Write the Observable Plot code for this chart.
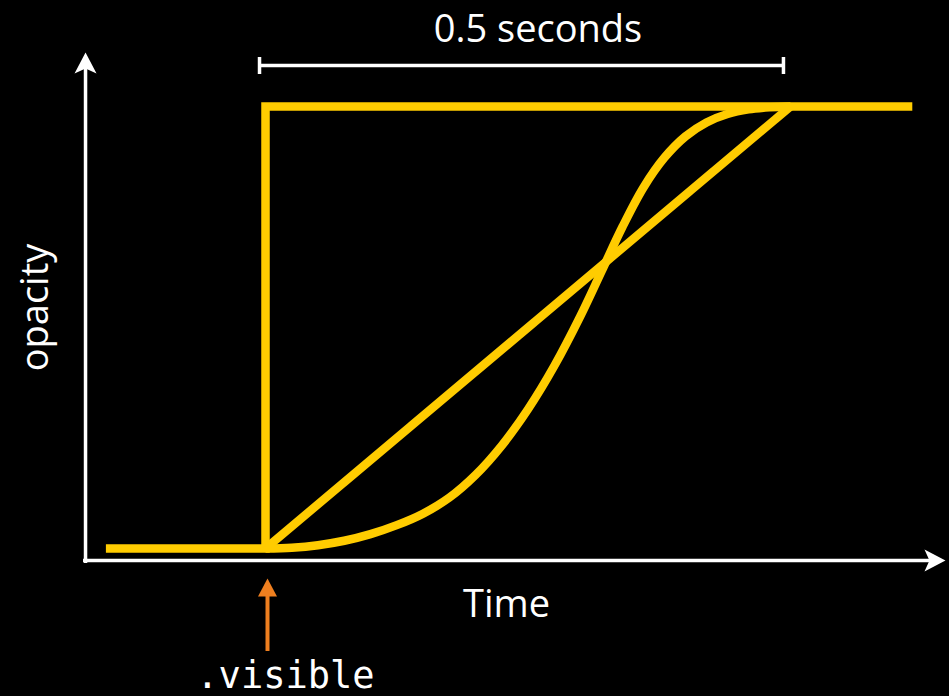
<!DOCTYPE html>
<html>
<head>
<meta charset="utf-8">
<script src="https://cdn.jsdelivr.net/npm/d3@7"></script>
<script src="https://cdn.jsdelivr.net/npm/@observablehq/plot@0.6"></script>
<style>
  html, body { margin: 0; padding: 0; background: #000; }
  #chart svg { display: block; }
</style>
</head>
<body>
<div id="chart"></div>
<script>
// ---- data (time in seconds, opacity 0..1) ----
const stepTime    = [-0.152, 0, 0, 0.616];
const stepOpacity = [0, 0, 1, 1];

const linearTime    = [0, 0.5];
const linearOpacity = [0, 1];

const easeTime    = [0, 0.025, 0.05, 0.075, 0.1, 0.125, 0.15, 0.175, 0.2, 0.225, 0.25, 0.275,
                     0.3, 0.32, 0.34, 0.36, 0.38, 0.4, 0.42, 0.44, 0.46, 0.48, 0.5];
const easeOpacity = [0, 0.0019, 0.0075, 0.0175, 0.0325, 0.0528, 0.0788, 0.115, 0.1663, 0.2329, 0.3151, 0.4129,
                     0.5264, 0.6269, 0.7279, 0.8169, 0.8844, 0.9324, 0.9639, 0.9829, 0.9934, 0.9981, 1];

const durationStart = 0;     // seconds
const durationEnd   = 0.5;   // seconds
const durationLabel = "0.5 seconds";
const xLabel = "Time";
const yLabel = "opacity";
const triggerLabel = ".visible";

// ---- build tables ----
const toRows = (ts, vs) => ts.map((t, i) => ({t, v: vs[i]}));
const stepRows = toRows(stepTime, stepOpacity);
const linearRows = toRows(linearTime, linearOpacity);
const easeRows = toRows(easeTime, easeOpacity);

const YELLOW = "#ffcc00";
const WHITE = "#ffffff";
const ORANGE = "#ef7f1f";

// axis frame positions in data units
const axisX0 = -0.1733, axisX1 = 0.6476;   // time
const axisY0 = -0.0339, axisY1 = 1.1222;   // opacity
const xAxisAt = -0.0271, yAxisAt = -0.1714;

// filled arrowhead, tip at origin, pointing up
const arrowHead = (len, half, notch) => ({
  draw(ctx) {
    ctx.moveTo(0, 0);
    ctx.lineTo(half, len);
    ctx.lineTo(0, len - notch);
    ctx.lineTo(-half, len);
    ctx.closePath();
  }
});

const bracketY = 1.0928, bracketX0 = -0.0057, bracketX1 = 0.4933;
const lineStyle = {stroke: YELLOW, strokeWidth: 8.5, strokeLinecap: "butt", strokeLinejoin: "miter", strokeMiterlimit: 10};

const chart = Plot.plot({
  width: 949,
  height: 696,
  margin: 0,
  style: {background: "#000", color: WHITE, overflow: "visible"},
  x: {type: "linear", domain: [0, 0.5], range: [265, 790], axis: null},
  y: {type: "linear", domain: [0, 1], range: [548, 106], axis: null},
  marks: [
    // axes
    Plot.ruleY([xAxisAt], {x1: axisX0, x2: axisX1 - 0.012, stroke: WHITE, strokeWidth: 3.5}),
    Plot.ruleX([yAxisAt], {y1: axisY0, y2: axisY1 - 0.03, stroke: WHITE, strokeWidth: 3.5}),
    Plot.dot([{t: axisX1, v: xAxisAt}], {x: "t", y: "v", symbol: arrowHead(21, 11, 5), rotate: 90, fill: WHITE, stroke: "none"}),
    Plot.dot([{t: yAxisAt, v: axisY1}], {x: "t", y: "v", symbol: arrowHead(21, 11, 5), fill: WHITE, stroke: "none"}),

    // duration bracket
    Plot.ruleY([bracketY], {x1: bracketX0, x2: bracketX1, stroke: WHITE, strokeWidth: 3.5}),
    Plot.ruleX([bracketX0, bracketX1], {y1: 1.0724, y2: 1.1109, stroke: WHITE, strokeWidth: 3.5}),
    Plot.text([durationLabel], {x: (durationStart + durationEnd) / 2 + 0.0095, y: 1.1448, text: d => d,
      fill: WHITE, fontSize: 38, fontFamily: "Open Sans", textAnchor: "middle", lineAnchor: "bottom"}),

    // curves
    Plot.line(stepRows, {x: "t", y: "v", ...lineStyle}),
    Plot.line(linearRows, {x: "t", y: "v", ...lineStyle}),
    Plot.line(easeRows, {x: "t", y: "v", curve: "catmull-rom", ...lineStyle}),

    // axis labels
    Plot.text([xLabel], {x: 0.2295, y: -0.1561, text: d => d, fill: WHITE, fontSize: 38,
      fontFamily: "Open Sans", textAnchor: "middle", lineAnchor: "bottom"}),
    Plot.text([yLabel], {x: -0.2067, y: 0.5452, text: d => d, fill: WHITE, fontSize: 38,
      fontFamily: "Open Sans", textAnchor: "middle", lineAnchor: "bottom", rotate: -90}),

    // trigger arrow
    Plot.ruleX([0.0019], {y1: -0.233, y2: -0.105, stroke: ORANGE, strokeWidth: 4}),
    Plot.dot([{t: 0.0019, v: -0.0679}], {x: "t", y: "v", symbol: arrowHead(18, 9.5, 0), fill: ORANGE, stroke: "none"}),
    Plot.text([triggerLabel], {x: 0.019, y: -0.3145, text: d => d, fill: WHITE, fontSize: 37,
      fontFamily: "DejaVu Sans Mono", textAnchor: "middle", lineAnchor: "bottom"})
  ]
});

document.getElementById("chart").appendChild(chart);
</script>
</body>
</html>
